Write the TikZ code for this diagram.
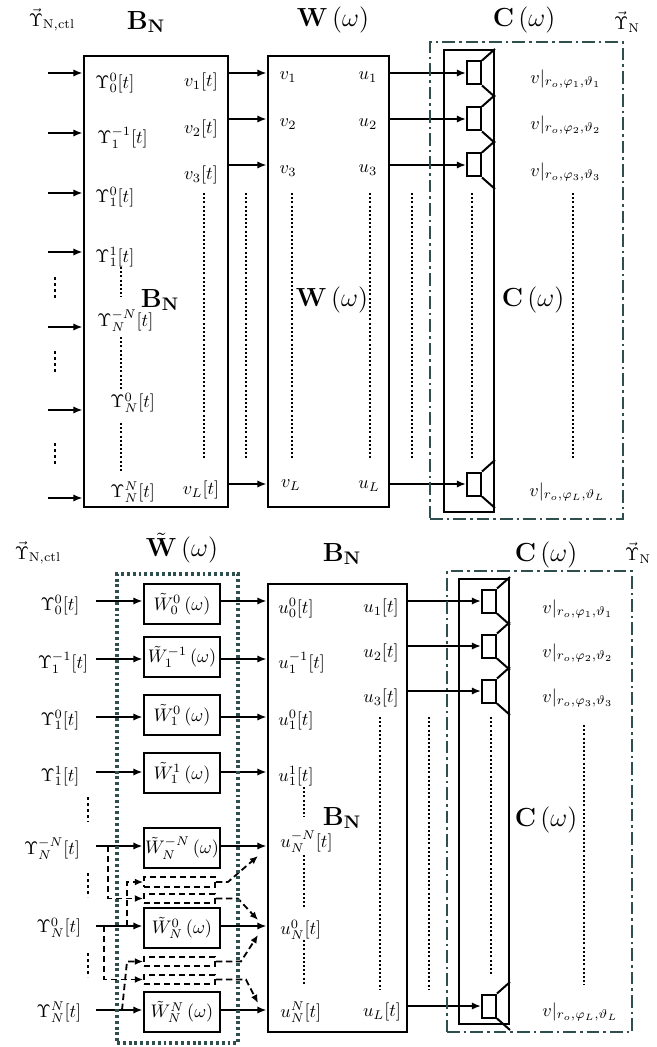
\documentclass[tikz,border=0pt]{standalone}
\usepackage{amsmath}
\usetikzlibrary{arrows.meta,fit}
\definecolor{slate}{RGB}{47,79,79}
\begin{document}
\begin{tikzpicture}[x=0.55pt,y=-0.55pt,
 blk/.style={draw,line width=1.6pt,inner sep=0pt},
 arr/.style={line width=1.35pt,-{Latex[length=5pt,width=4pt]}},
 dots/.style={line width=0.9pt,dash pattern=on 1.1pt off 1.2pt},
 vdts/.style={line width=1.6pt,dash pattern=on 1.7pt off 1.6pt},
 spk/.style={draw,line width=1.1pt,inner sep=0pt,minimum width=14*0.55pt,minimum height=23*0.55pt},
 spkl/.style={line width=1.1pt},
 ddbox/.style={draw=slate,line width=1.5pt,dash pattern=on 7pt off 2.2pt on 1.4pt off 2.2pt,inner sep=0pt},
 dtbox/.style={draw=slate,line width=2pt,dash pattern=on 1.6pt off 1.6pt,inner sep=0pt},
 dbox/.style={draw,line width=1pt,dash pattern=on 3.5pt off 2pt,inner sep=0pt},
 dsh/.style={line width=1pt,dash pattern=on 3.5pt off 2pt,-{Latex[length=4.5pt,width=3.8pt]}},
 wbox/.style={draw,line width=1.6pt,inner sep=0pt,minimum width=76*0.55pt,minimum height=40*0.55pt},
 lbl/.style={inner sep=0pt},
 ttl/.style={inner sep=0pt,font=\Large},
]
\useasboundingbox (0,0) rectangle (657,1047);

% ================= TOP DIAGRAM =================
\node[lbl] (tctl) at (52,20) {$\vec{\Upsilon}_{\mathrm{N,ctl}}$};
\node[ttl] (tB) at (146,22) {$\mathbf{B}_\mathbf{N}$};
\node[ttl] (tW) at (333,20) {$\mathbf{W}\left(\omega\right)$};
\node[ttl] (tC) at (524,20) {$\mathbf{C}\left(\omega\right)$};
\node[lbl] (tY) at (627,22) {$\vec{\Upsilon}_{\mathrm{N}}$};

\node[blk,fit={(84,56) (228,507)}] (BN1) {};
\node[blk,fit={(268,56) (389,507)}] (W1) {};
\node[blk,fit={(444,50) (494,512)}] (SB1) {};

\node[ttl] (mB1) at (160,300) {$\mathbf{B}_\mathbf{N}$};
\node[ttl] (mW1) at (332,300) {$\mathbf{W}\left(\omega\right)$};
\node[ttl] (mC1) at (533,300) {$\mathbf{C}\left(\omega\right)$};

% inputs
\foreach \y [count=\i] in {73,133,193,252,327,410,498} {
  \coordinate (i\i) at (48,\y);
  \draw[arr] (i\i) -- (i\i -| BN1.west);
}
\foreach \a/\b in {277/299,351/373,443/465} \draw[vdts] (55,\a) -- (55,\b);

% left column of B_N
\node[lbl,anchor=west] (a1) at (95,83) {$\Upsilon_0^0[t]$};
\node[lbl,anchor=west] (a2) at (97,138) {$\Upsilon_1^{-1}[t]$};
\node[lbl,anchor=west] (a3) at (95,197) {$\Upsilon_1^0[t]$};
\node[lbl,anchor=west] (a4) at (95,257) {$\Upsilon_1^1[t]$};
\node[lbl,anchor=west] (a5) at (97,321) {$\Upsilon_N^{-N}[t]$};
\node[lbl,anchor=west] (a6) at (110,403) {$\Upsilon_N^0[t]$};
\node[lbl,anchor=west] (a7) at (110,492) {$\Upsilon_N^N[t]$};
\foreach \a/\b in {267/297,337/390,423/472} \draw[dots] (121,\a) -- (121,\b);

% right column of B_N
\node[lbl] (b1) at (201,82) {$v_1[t]$};
\node[lbl] (b2) at (201,129) {$v_2[t]$};
\node[lbl] (b3) at (201,175) {$v_3[t]$};
\node[lbl] (bL) at (201,490) {$v_L[t]$};

% W columns
\node[lbl] (c1) at (288,77) {$v_1$};
\node[lbl] (c2) at (288,124) {$v_2$};
\node[lbl] (c3) at (288,171) {$v_3$};
\node[lbl] (cL) at (291,485) {$v_L$};
\node[lbl] (d1) at (368,77) {$u_1$};
\node[lbl] (d2) at (368,124) {$u_2$};
\node[lbl] (d3) at (368,170) {$u_3$};
\node[lbl] (dL) at (369,486) {$u_L$};

% pressure labels
\node[lbl,anchor=west] (p1) at (530,79) {$v|_{r_o,\varphi_1,\vartheta_1}$};
\node[lbl,anchor=west] (p2) at (530,125) {$v|_{r_o,\varphi_2,\vartheta_2}$};
\node[lbl,anchor=west] (p3) at (530,172) {$v|_{r_o,\varphi_3,\vartheta_3}$};
\node[lbl,anchor=west] (pL) at (529,492) {$v|_{r_o,\varphi_L,\vartheta_L}$};

\foreach \x in {204,246,292,370,412,472,573} \draw[dots] (\x,193) -- (\x,460);

\foreach \y in {73,119,165,484} \draw[arr] (BN1.east |- 0,\y) -- (W1.west |- 0,\y);

\foreach \y [count=\i] in {73,119,165,484} {
  \node[spk] (sa\i) at (474,\y) {};
  \draw[spkl] (sa\i.north east) -- ++(13,-11.5);
  \draw[spkl] (sa\i.south east) -- ++(13,11.5);
  \draw[arr] (W1.east |- sa\i) -- (sa\i.west);
}

\node[ddbox,fit={(430,42) (623,519)}] (DD1) {};

% ================= BOTTOM DIAGRAM =================
\node[lbl] (bctl) at (38,553) {$\vec{\Upsilon}_{\mathrm{N,ctl}}$};
\node[ttl] (bWt) at (182,548) {$\tilde{\mathbf{W}}\left(\omega\right)$};
\node[ttl] (bB) at (342,554) {$\mathbf{B}_\mathbf{N}$};
\node[ttl] (bC) at (546,555) {$\mathbf{C}\left(\omega\right)$};
\node[lbl] (bY) at (638,553) {$\vec{\Upsilon}_{\mathrm{N}}$};

\node[blk,fit={(268,584) (407,1032)}] (BN2) {};
\node[blk,fit={(459,579) (509,1024)}] (SB2) {};
\node[ttl] (mB2) at (342,818) {$\mathbf{B}_\mathbf{N}$};
\node[ttl] (mC2) at (546,820) {$\mathbf{C}\left(\omega\right)$};

% filter boxes
\foreach \c/\txt [count=\i] in {604/{\tilde{W}_0^0\left(\omega\right)},657/{\tilde{W}_1^{-1}\left(\omega\right)},715/{\tilde{W}_1^0\left(\omega\right)},773/{\tilde{W}_1^1\left(\omega\right)},848/{\tilde{W}_N^{-N}\left(\omega\right)},928/{\tilde{W}_N^0\left(\omega\right)},1012/{\tilde{W}_N^N\left(\omega\right)}} {
  \node[wbox] (wt\i) at (182,\c) {$\txt$};
}

% input labels
\node[lbl] (e1) at (60,605) {$\Upsilon_0^0[t]$};
\node[lbl] (e2) at (63,663) {$\Upsilon_1^{-1}[t]$};
\node[lbl] (e3) at (60,720) {$\Upsilon_1^0[t]$};
\node[lbl] (e4) at (60,776) {$\Upsilon_1^1[t]$};
\node[lbl] (e5) at (52,849) {$\Upsilon_N^{-N}[t]$};
\node[lbl] (e6) at (59,928) {$\Upsilon_N^0[t]$};
\node[lbl] (e7) at (59,1012) {$\Upsilon_N^N[t]$};
\foreach \a/\b in {797/822,873/897,953/977} \draw[vdts] (88,\a) -- (88,\b);

\foreach \y [count=\i] in {601,659,717,772,846,926,1010} {
  \coordinate (j\i) at (96,\y);
  \draw[arr] (j\i) -- (j\i -| wt\i.west);
  \draw[arr] (wt\i.east |- j\i) -- (j\i -| BN2.west);
}

% u labels
\node[lbl,anchor=west] (f1) at (278,608) {$u_0^0[t]$};
\node[lbl,anchor=west] (f2) at (278,663) {$u_1^{-1}[t]$};
\node[lbl,anchor=west] (f3) at (278,720) {$u_1^0[t]$};
\node[lbl,anchor=west] (f4) at (278,776) {$u_1^1[t]$};
\node[lbl,anchor=west] (f5) at (280,842) {$u_N^{-N}[t]$};
\node[lbl,anchor=west] (f6) at (280,930) {$u_N^0[t]$};
\node[lbl,anchor=west] (f7) at (280,1012) {$u_N^N[t]$};
\foreach \a/\b in {787/817,855/908,940/985} \draw[dots] (304,\a) -- (304,\b);

\node[lbl] (g1) at (381,608) {$u_1[t]$};
\node[lbl] (g2) at (381,653) {$u_2[t]$};
\node[lbl] (g3) at (381,698) {$u_3[t]$};
\node[lbl] (gL) at (382,1012) {$u_L[t]$};

\node[lbl,anchor=west] (q1) at (542,609) {$v|_{r_o,\varphi_1,\vartheta_1}$};
\node[lbl,anchor=west] (q2) at (542,653) {$v|_{r_o,\varphi_2,\vartheta_2}$};
\node[lbl,anchor=west] (q3) at (542,698) {$v|_{r_o,\varphi_3,\vartheta_3}$};
\node[lbl,anchor=west] (qL) at (542,1012) {$v|_{r_o,\varphi_L,\vartheta_L}$};

\draw[dots] (380,717) -- (380,990);
\draw[dots] (429,717) -- (429,990);
\draw[dots] (491,717) -- (491,975);
\draw[dots] (584,725) -- (584,985);

\foreach \y [count=\i] in {601,646,691,1006} {
  \node[spk] (sb\i) at (489,\y) {};
  \draw[spkl] (sb\i.north east) -- ++(13,-11.5);
  \draw[spkl] (sb\i.south east) -- ++(13,11.5);
  \draw[arr] (BN2.east |- sb\i) -- (sb\i.west);
}

% dashed cross filters
\node[dbox,fit={(144,877) (215,887)}] (r1) {};
\node[dbox,fit={(144,894) (215,903)}] (r2) {};
\node[dbox,fit={(144,957) (215,966)}] (r3) {};
\node[dbox,fit={(144,975) (215,984)}] (r4) {};
\coordinate (k1) at (127,926);
\coordinate (k2) at (108,846);
\coordinate (k3) at (122,1010);
\coordinate (k3b) at (127,961.5);
\coordinate (k4) at (104,926);
\coordinate (o1) at (258,856);
\coordinate (o2) at (258,920);
\coordinate (o3) at (258,935);
\coordinate (o4) at (258,1003);
\draw[dsh] (k1) |- (r1.west);
\draw[dsh] (k2) |- (r2.west);
\draw[dsh] (k3) -- (k3b) -- (r3.west);
\draw[dsh] (k4) |- (r4.west);
\draw[dsh] (r1.east) -- ++(12,0) -- (o1);
\draw[dsh] (r2.east) -- ++(22,0) -- (o2);
\draw[dsh] (r3.east) -- ++(25,0) -- (o3);
\draw[dsh] (r4.east) -- ++(30,0) -- (o4);

\node[dtbox,fit={(117,574) (238,1043)}] (WT) {};
\node[ddbox,fit={(447,571) (632,1032)}] (DD2) {};
\end{tikzpicture}
\end{document}
